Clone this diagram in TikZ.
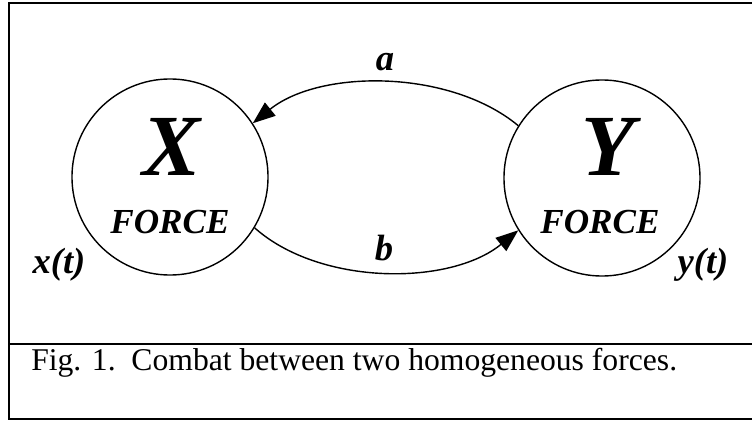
\documentclass[tikz,border=0pt]{standalone}
\usepackage{fontspec}
\setmainfont{Liberation Serif}
\usetikzlibrary{arrows.meta}

\tikzset{
  force/.style={circle, draw, line width=1pt, minimum size=4.9cm, inner sep=0pt},
  bigletter/.style={font=\fontsize{62}{62}\selectfont\bfseries\itshape, inner sep=0pt},
  forcename/.style={font=\fontsize{25}{25}\selectfont\bfseries\itshape, inner sep=0pt},
  ratelabel/.style={font=\fontsize{26}{26}\selectfont\bfseries\itshape, inner sep=0pt},
  rate/.style={line width=1pt, -{Triangle[length=16pt,width=12pt]}}
}

\begin{document}
\begin{tikzpicture}[x=0.025cm, y=0.025cm]
                \useasboundingbox (0,0) rectangle (752,423);

                % Draw the frame and the caption line
                \draw[line width=1.4pt] (752,420) -- (9,420) -- (9,4) -- (752,4);
                \draw[line width=1.4pt] (9,79) -- (752,79);

                % The two forces
                \node[force] (X) at (170,246) {};
                \node[force] (Y) at (602,245) {};
                \node[bigletter] (Xl) at (172,276) {X};
                \node[forcename] (Xf) at (170,201) {FORCE};
                \node[bigletter] (Yl) at (608,276) {Y};
                \node[forcename] (Yf) at (600,201) {FORCE};
                \node[ratelabel] (xt) at (59,158) {x(t)};
                \node[ratelabel] (yt) at (703,158) {y(t)};

                % Attrition arrows
                \draw[rate] (Y.148) .. controls (450,354) and (320,354) .. (X.33);
                \draw[rate] (X.-31) .. controls (320,137) and (450,137) .. (Y.212);
                \node[ratelabel] (a) at (385,361) {a};
                \node[ratelabel] (b) at (384,175) {b};

                % Caption
                \node[font=\fontsize{22.5}{22.5}\selectfont, anchor=west, inner sep=0pt] (cap) at (31,60)
                  {Fig. 1.\ \ Combat between two homogeneous forces.};
            \end{tikzpicture}
\end{document}
